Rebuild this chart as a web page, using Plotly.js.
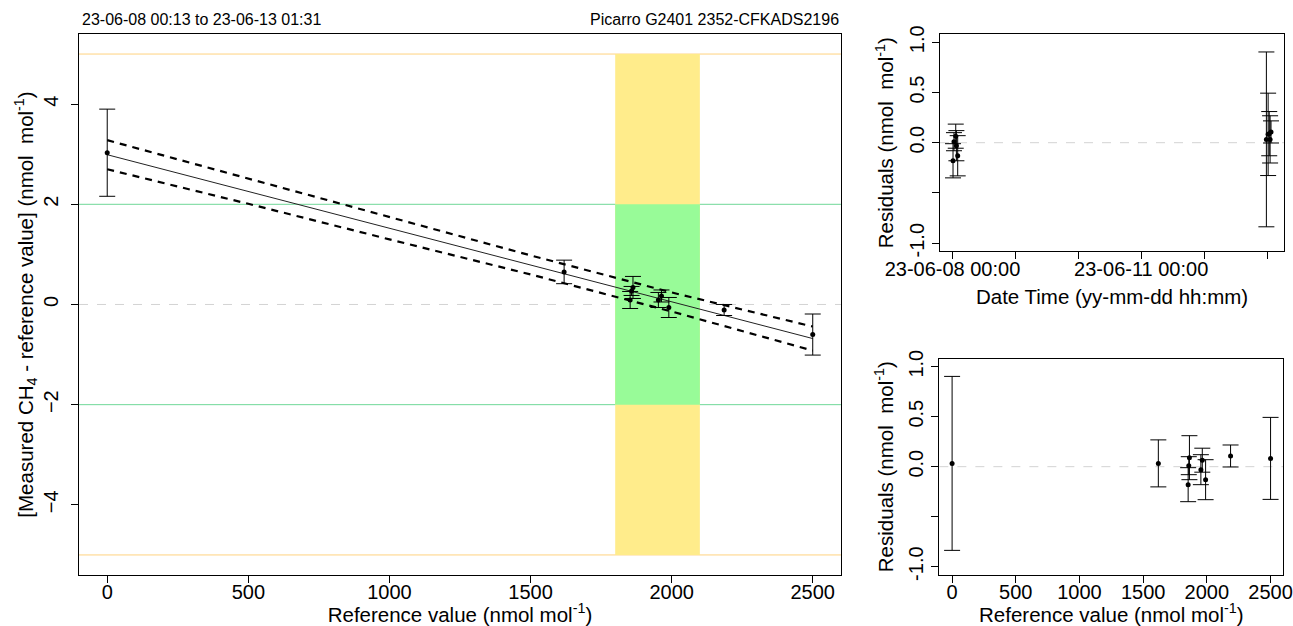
<!DOCTYPE html>
<html>
<head>
<meta charset="utf-8">
<script src="https://cdn.plot.ly/plotly-3.0.1.min.js"></script>
<style>html,body{margin:0;padding:0;background:#fff}#chart{width:1293px;height:626px}</style>
</head>
<body>
<div id="chart"></div>
<script>
// ---- data ----
const refVals   = [0, 1619, 1853, 1858, 1863, 1953, 1964, 1990, 2186, 2500];
const measDiff  = [3.03, 0.65, 0.09, 0.27, 0.34, 0.09, 0.17, -0.06, -0.11, -0.60];
const uncert    = [0.87, 0.235, 0.17, 0.09, 0.22, 0.15, 0.12, 0.20, 0.11, 0.41];
const residuals = [0.033, 0.033, -0.18, 0.01, 0.09, -0.03, 0.065, -0.13, 0.107, 0.083];
const times     = ['2023-06-12 23:45', '2023-06-13 01:10', '2023-06-08 00:13', '2023-06-08 00:35',
                   '2023-06-13 00:50', '2023-06-08 01:30', '2023-06-08 01:15', '2023-06-08 02:00',
                   '2023-06-13 01:31', '2023-06-13 00:25'];
const fitX      = [0, 2500];
const fitY      = [2.99, -0.68];
const bandX     = [0, 500, 1000, 1500, 2000, 2500];
const bandUpper = [3.28, 2.51, 1.74, 0.98, 0.24, -0.44];
const bandLower = [2.70, 2.01, 1.30, 0.60, -0.14, -0.92];
const refTicks  = [0, 500, 1000, 1500, 2000, 2500];
const mainYTicks = [-4, -2, 0, 2, 4];
const resTicks  = [1, 0.5, 0, -1];
const resTickText = ['1.0', '0.5', '0.0', '-1.0'];
const resMinorTicks = [-0.5];
const dayTicks  = ['2023-06-08', '2023-06-11'];
const dayTickText = ['23-06-08 00:00', '23-06-11 00:00'];
const dayMinorTicks = ['2023-06-09', '2023-06-10', '2023-06-12', '2023-06-13'];
const periodText = '23-06-08 00:13 to 23-06-13 01:31';
const instrumentText = 'Picarro G2401 2352-CFKADS2196';

const FONT = 'Liberation Sans, Arial, sans-serif';
const errStyle = (arr) => ({type: 'data', array: arr, visible: true, color: '#000', thickness: 1, width: 8});
const mk = {color: '#000', size: 5, symbol: 'circle'};

const traces = [
  {x: bandX, y: bandUpper, mode: 'lines', line: {color: '#000', width: 2.2, dash: '7px,6px'}, xaxis: 'x', yaxis: 'y', hoverinfo: 'skip'},
  {x: bandX, y: bandLower, mode: 'lines', line: {color: '#000', width: 2.2, dash: '7px,6px'}, xaxis: 'x', yaxis: 'y', hoverinfo: 'skip'},
  {x: fitX, y: fitY, mode: 'lines', line: {color: '#222', width: 1}, xaxis: 'x', yaxis: 'y'},
  {x: refVals, y: measDiff, mode: 'markers', marker: mk, error_y: errStyle(uncert), xaxis: 'x', yaxis: 'y'},
  {x: times, y: residuals, mode: 'markers', marker: mk, error_y: errStyle(uncert), xaxis: 'x2', yaxis: 'y2'},
  {x: refVals, y: residuals, mode: 'markers', marker: mk, error_y: errStyle(uncert), xaxis: 'x3', yaxis: 'y3'}
];

const axBase = {
  showline: true, linecolor: '#000', linewidth: 1, mirror: true,
  ticks: 'outside', ticklen: 7, tickcolor: '#000', tickwidth: 1,
  showgrid: false, zeroline: false, fixedrange: true,
  tickfont: {family: FONT, size: 20, color: '#000'}
};
const minorTicks = (vals) => ({tickvals: vals, ticks: 'outside', ticklen: 7, tickcolor: '#000', tickwidth: 1, showgrid: false});
const ttl = (t, s) => ({text: t, font: {family: FONT, size: 20.5, color: '#000'}, standoff: s});

const hline = (yref, xref, y, color, dash) => ({
  type: 'line', xref: xref + ' domain', x0: 0, x1: 1, yref: yref, y0: y, y1: y,
  line: {color: color, width: 1, dash: dash || 'solid'}, layer: 'below'
});

const layout = {
  width: 1293, height: 626,
  margin: {l: 0, r: 0, t: 0, b: 0},
  paper_bgcolor: '#fff', plot_bgcolor: '#fff',
  showlegend: false,
  font: {family: FONT, color: '#000'},
  xaxis: Object.assign({}, axBase, {
    domain: [0.0611, 0.6504], range: [-100, 2600], tickvals: refTicks, anchor: 'y',
    ticklabelstandoff: -8,
    title: ttl('Reference value (nmol mol<sup>-1</sup>)', 10)
  }),
  yaxis: Object.assign({}, axBase, {
    domain: [0.0815, 0.9457], range: [-5.4, 5.4], tickvals: mainYTicks, tickangle: -90, anchor: 'x',
    ticklabelstandoff: 5,
    title: ttl('[Measured CH<sub>4</sub> - reference value] (nmol  mol<sup>-1</sup>)', 0)
  }),
  xaxis2: Object.assign({}, axBase, {
    type: 'date', domain: [0.727, 0.9931], range: ['2023-06-07 19:15', '2023-06-13 06:30'],
    tickvals: dayTicks, ticktext: dayTickText, anchor: 'y2',
    minor: minorTicks(dayMinorTicks),
    ticklabelstandoff: -7,
    title: ttl('Date Time (yy-mm-dd hh:mm)', 10)
  }),
  yaxis2: Object.assign({}, axBase, {
    domain: [0.5987, 0.9454], range: [-1.08, 1.08], tickvals: resTicks, ticktext: resTickText,
    minor: minorTicks(resMinorTicks),
    tickangle: -90, anchor: 'x2',
    title: ttl('Residuals (nmol  mol<sup>-1</sup>)', 6)
  }),
  xaxis3: Object.assign({}, axBase, {
    domain: [0.7265, 0.9925], range: [-100, 2600], tickvals: refTicks, anchor: 'y3',
    ticklabelstandoff: -8,
    title: ttl('Reference value (nmol mol<sup>-1</sup>)', 8)
  }),
  yaxis3: Object.assign({}, axBase, {
    domain: [0.082, 0.427], range: [-1.08, 1.08], tickvals: resTicks, ticktext: resTickText,
    minor: minorTicks(resMinorTicks),
    tickangle: -90, anchor: 'x3',
    title: ttl('Residuals (nmol  mol<sup>-1</sup>)', 6)
  }),
  shapes: [
    {type: 'rect', xref: 'x', yref: 'y', x0: 1800, x1: 2100, y0: -5, y1: 5, fillcolor: '#FFEC8B', line: {width: 0}, layer: 'below'},
    {type: 'rect', xref: 'x', yref: 'y', x0: 1800, x1: 2100, y0: -2, y1: 2, fillcolor: '#98FB98', line: {width: 0}, layer: 'below'},
    hline('y', 'x', 5, '#FFD27F'),
    hline('y', 'x', -5, '#FFD27F'),
    hline('y', 'x', 2, '#70D898'),
    hline('y', 'x', -2, '#70D898'),
    hline('y', 'x', 0, '#D3D3D3', 'dash'),
    hline('y2', 'x2', 0, '#D3D3D3', 'dash'),
    hline('y3', 'x3', 0, '#D3D3D3', 'dash')
  ],
  annotations: [
    {text: periodText, xref: 'paper', yref: 'paper', x: 80 / 1293, y: (626 - 20) / 626,
     xanchor: 'left', yanchor: 'middle', showarrow: false, font: {family: FONT, size: 16, color: '#000'}},
    {text: instrumentText, xref: 'paper', yref: 'paper', x: 841 / 1293, y: (626 - 20) / 626,
     xanchor: 'right', yanchor: 'middle', showarrow: false, font: {family: FONT, size: 16, color: '#000'}}
  ]
};

Plotly.newPlot('chart', traces, layout, {displayModeBar: false, staticPlot: true});
</script>
</body>
</html>
